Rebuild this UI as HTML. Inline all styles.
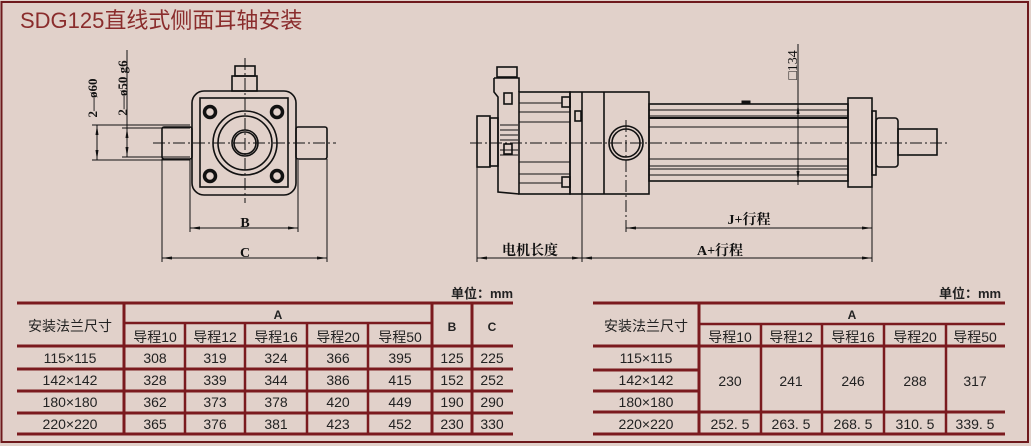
<!DOCTYPE html>
<html><head><meta charset="utf-8"><style>
html,body{margin:0;padding:0;background:#e1d1ca;}
body{width:1031px;height:446px;position:relative;overflow:hidden;font-family:"Liberation Sans","Noto Sans CJK SC",sans-serif;}
svg{position:absolute;left:0;top:0;}
</style></head><body>
<svg width="1031" height="446" viewBox="0 0 1031 446" xmlns="http://www.w3.org/2000/svg">
<defs>
<marker id="ar" markerWidth="10" markerHeight="6" refX="10" refY="3" orient="auto-start-reverse" markerUnits="userSpaceOnUse"><path d="M0,1.5 L10,3 L0,4.5 z" fill="#111"/></marker>
</defs>
<!-- frame -->
<rect x="1.5" y="2" width="1026.5" height="440" fill="none" stroke="#6e1a1d" stroke-width="2"/>
<text x="20" y="28" font-size="22" fill="#8a2c2c" font-family="'Liberation Sans','Noto Sans CJK SC',sans-serif">SDG125直线式侧面耳轴安装</text>

<g stroke="#111" fill="none" stroke-width="1">
<!-- LEFT VIEW -->
<g stroke-width="1.6">
<rect x="192" y="91" width="104" height="104" rx="12"/>
<rect x="200" y="98" width="88" height="89"/>
<rect x="235" y="66" width="20" height="10"/>
<rect x="232" y="76" width="25" height="15"/>
<rect x="162" y="127" width="30" height="32" rx="2"/>
<rect x="296" y="127" width="31" height="32" rx="2"/>
<circle cx="245" cy="143" r="32"/><circle cx="245" cy="143" r="27"/>
<circle cx="245" cy="143" r="13"/><circle cx="245" cy="143" r="11"/>
</g>
<g stroke-width="3.5"><circle cx="210" cy="112" r="5.5"/><circle cx="277" cy="112" r="5.5"/><circle cx="210" cy="176" r="5.5"/><circle cx="277" cy="176" r="5.5"/></g>
<line x1="153" y1="143" x2="336" y2="143" stroke-dasharray="12,3,2,3"/>
<line x1="245" y1="58" x2="245" y2="203" stroke-dasharray="12,3,2,3"/>
<line x1="92" y1="125" x2="190" y2="125"/><line x1="92" y1="160" x2="190" y2="160"/>
<line x1="122" y1="128" x2="190" y2="128"/><line x1="122" y1="157" x2="190" y2="157"/>
<line x1="97" y1="125" x2="97" y2="160" marker-start="url(#ar)" marker-end="url(#ar)"/>
<line x1="127" y1="50" x2="127" y2="157" />
<line x1="127" y1="128" x2="127" y2="157" marker-start="url(#ar)" marker-end="url(#ar)"/>
<line x1="190" y1="160" x2="190" y2="232"/><line x1="298" y1="160" x2="298" y2="232"/>
<line x1="190" y1="228" x2="298" y2="228" marker-start="url(#ar)" marker-end="url(#ar)"/>
<line x1="162" y1="159" x2="162" y2="262"/><line x1="327" y1="159" x2="327" y2="262"/>
<line x1="162" y1="258" x2="327" y2="258" marker-start="url(#ar)" marker-end="url(#ar)"/>

<!-- RIGHT VIEW -->
<g stroke-width="1.6">
<rect x="477" y="116" width="13" height="51"/>
<rect x="490" y="118" width="8" height="48"/>
<rect x="497" y="67" width="20" height="10"/>
<path d="M494,78 L519,78 L519,92 M494,78 L494,92 L498,97 L498,192 L519,194"/>
<rect x="519" y="92" width="51" height="102"/>
<rect x="570" y="92" width="79" height="102"/>
<line x1="582" y1="92" x2="582" y2="194"/><line x1="604" y1="92" x2="604" y2="194"/>
<rect x="649" y="104" width="199" height="77"/>
<rect x="848" y="98" width="24" height="89"/>
<rect x="872" y="111" width="4" height="64"/>
<rect x="876" y="118" width="22" height="49" rx="3"/>
<rect x="898" y="129" width="39" height="26"/>
<circle cx="626" cy="143" r="17"/><circle cx="626" cy="143" r="14"/>
<rect x="562" y="97" width="8" height="10"/><rect x="562" y="177" width="8" height="10"/>
<rect x="504" y="93" width="8" height="11"/><rect x="504" y="144" width="8" height="10"/>
<rect x="575" y="111" width="6" height="10"/>
</g>
<g stroke-width="1">
<line x1="519" y1="103" x2="562" y2="103"/><line x1="519" y1="112" x2="570" y2="112"/>
<line x1="519" y1="122" x2="570" y2="122"/><line x1="519" y1="162" x2="570" y2="162"/>
<line x1="519" y1="174" x2="570" y2="174"/><line x1="519" y1="183" x2="562" y2="183"/>
<line x1="649" y1="110" x2="848" y2="110"/><line x1="649" y1="116" x2="848" y2="116"/>
<line x1="649" y1="118" x2="848" y2="118" stroke-width="2"/><line x1="649" y1="127" x2="848" y2="127"/>
<line x1="649" y1="159" x2="848" y2="159"/><line x1="649" y1="166" x2="848" y2="166"/>
<line x1="649" y1="169" x2="848" y2="169"/><line x1="649" y1="175" x2="848" y2="175"/>
<line x1="500" y1="125" x2="518" y2="125"/><line x1="500" y1="130" x2="518" y2="130"/><line x1="500" y1="135" x2="518" y2="135"/><line x1="500" y1="140" x2="518" y2="140"/><line x1="500" y1="150" x2="518" y2="150"/><line x1="500" y1="155" x2="518" y2="155"/>
</g>
<rect x="742" y="101" width="8" height="3" fill="#111"/>
<line x1="470" y1="143" x2="950" y2="143" stroke-dasharray="12,3,2,3"/>
<line x1="626" y1="120" x2="626" y2="232" stroke-dasharray="12,3,2,3"/>
<line x1="798" y1="44" x2="798" y2="185"/>
<line x1="798" y1="104" x2="798" y2="181" marker-start="url(#ar)" marker-end="url(#ar)"/>
<line x1="477" y1="167" x2="477" y2="262"/><line x1="582" y1="194" x2="582" y2="262"/><line x1="872" y1="187" x2="872" y2="262"/>
<line x1="626" y1="228" x2="872" y2="228" marker-start="url(#ar)" marker-end="url(#ar)"/>
<line x1="477" y1="258" x2="582" y2="258" marker-start="url(#ar)" marker-end="url(#ar)"/>
<line x1="582" y1="258" x2="872" y2="258" marker-start="url(#ar)" marker-end="url(#ar)"/>
</g>
<g font-family="'Liberation Serif','Noto Serif CJK SC',serif" font-weight="bold" font-size="14" fill="#111" text-anchor="middle">
<text x="245" y="227">B</text><text x="245" y="257">C</text>
<text x="749" y="224">J+行程</text><text x="720" y="255">A+行程</text>
<text x="530" y="255">电机长度</text>
<text transform="translate(97,98) rotate(-90)" font-size="13">2—ø60</text>
<text transform="translate(127,88) rotate(-90)" font-size="13">2—ø50 g6</text>
<text transform="translate(797,65) rotate(-90)" font-size="14" font-weight="normal">□134</text>
</g>

<!-- TABLES -->
<g stroke="#7a1a1e" fill="none">
<g stroke-width="3">
<line x1="17" y1="303" x2="513" y2="303"/><line x1="17" y1="346" x2="513" y2="346"/>
<line x1="17" y1="369" x2="513" y2="369"/><line x1="17" y1="391" x2="513" y2="391"/>
<line x1="17" y1="413" x2="513" y2="413"/><line x1="17" y1="434" x2="513" y2="434"/>
<line x1="124" y1="303" x2="124" y2="434"/><line x1="432" y1="303" x2="432" y2="434"/><line x1="472" y1="303" x2="472" y2="434"/>
<line x1="124" y1="323" x2="432" y2="323" stroke-width="2.5"/>
</g>
<g stroke-width="2.5"><line x1="185" y1="323" x2="185" y2="434"/><line x1="245" y1="323" x2="245" y2="434"/><line x1="307" y1="323" x2="307" y2="434"/><line x1="368" y1="323" x2="368" y2="434"/></g>
<g stroke-width="3">
<line x1="593" y1="303" x2="1005" y2="303"/><line x1="593" y1="346" x2="1005" y2="346"/>
<line x1="593" y1="370" x2="699" y2="370"/><line x1="593" y1="391" x2="699" y2="391"/>
<line x1="593" y1="412" x2="1005" y2="412"/><line x1="593" y1="434" x2="1005" y2="434"/>
<line x1="699" y1="303" x2="699" y2="434"/>
<line x1="699" y1="324" x2="1005" y2="324" stroke-width="2.5"/>
</g>
<g stroke-width="2.5"><line x1="761" y1="324" x2="761" y2="434"/><line x1="822" y1="324" x2="822" y2="434"/><line x1="884" y1="324" x2="884" y2="434"/><line x1="946" y1="324" x2="946" y2="434"/></g>
</g>
<g font-family="'Liberation Sans','Noto Sans CJK SC',sans-serif" font-size="14" fill="#222" text-anchor="middle">
<text x="482" y="298" font-weight="bold" font-size="13">单位：mm</text>
<text x="970" y="298" font-weight="bold" font-size="13">单位：mm</text>
<text x="70" y="331">安装法兰尺寸</text>
<text x="278" y="319" font-weight="bold" font-size="12">A</text>
<text x="452" y="331" font-weight="bold" font-size="12">B</text><text x="492" y="331" font-weight="bold" font-size="12">C</text>
<text x="155" y="342">导程10</text><text x="215" y="342">导程12</text><text x="276" y="342">导程16</text><text x="338" y="342">导程20</text><text x="400" y="342">导程50</text>
<text x="70" y="363">115×115</text><text x="70" y="385">142×142</text><text x="70" y="407">180×180</text><text x="70" y="429">220×220</text>
<text x="155" y="363">308</text><text x="215" y="363">319</text><text x="276" y="363">324</text><text x="338" y="363">366</text><text x="400" y="363">395</text><text x="452" y="363">125</text><text x="492" y="363">225</text>
<text x="155" y="385">328</text><text x="215" y="385">339</text><text x="276" y="385">344</text><text x="338" y="385">386</text><text x="400" y="385">415</text><text x="452" y="385">152</text><text x="492" y="385">252</text>
<text x="155" y="407">362</text><text x="215" y="407">373</text><text x="276" y="407">378</text><text x="338" y="407">420</text><text x="400" y="407">449</text><text x="452" y="407">190</text><text x="492" y="407">290</text>
<text x="155" y="429">365</text><text x="215" y="429">376</text><text x="276" y="429">381</text><text x="338" y="429">423</text><text x="400" y="429">452</text><text x="452" y="429">230</text><text x="492" y="429">330</text>

<text x="646" y="331">安装法兰尺寸</text>
<text x="852" y="319" font-weight="bold" font-size="12">A</text>
<text x="730" y="342">导程10</text><text x="791" y="342">导程12</text><text x="853" y="342">导程16</text><text x="915" y="342">导程20</text><text x="975" y="342">导程50</text>
<text x="646" y="363">115×115</text><text x="646" y="385">142×142</text><text x="646" y="407">180×180</text><text x="646" y="429">220×220</text>
<text x="730" y="386">230</text><text x="791" y="386">241</text><text x="853" y="386">246</text><text x="915" y="386">288</text><text x="975" y="386">317</text>
<text x="730" y="429">252. 5</text><text x="791" y="429">263. 5</text><text x="853" y="429">268. 5</text><text x="915" y="429">310. 5</text><text x="975" y="429">339. 5</text>
</g>
</svg>
</body></html>
